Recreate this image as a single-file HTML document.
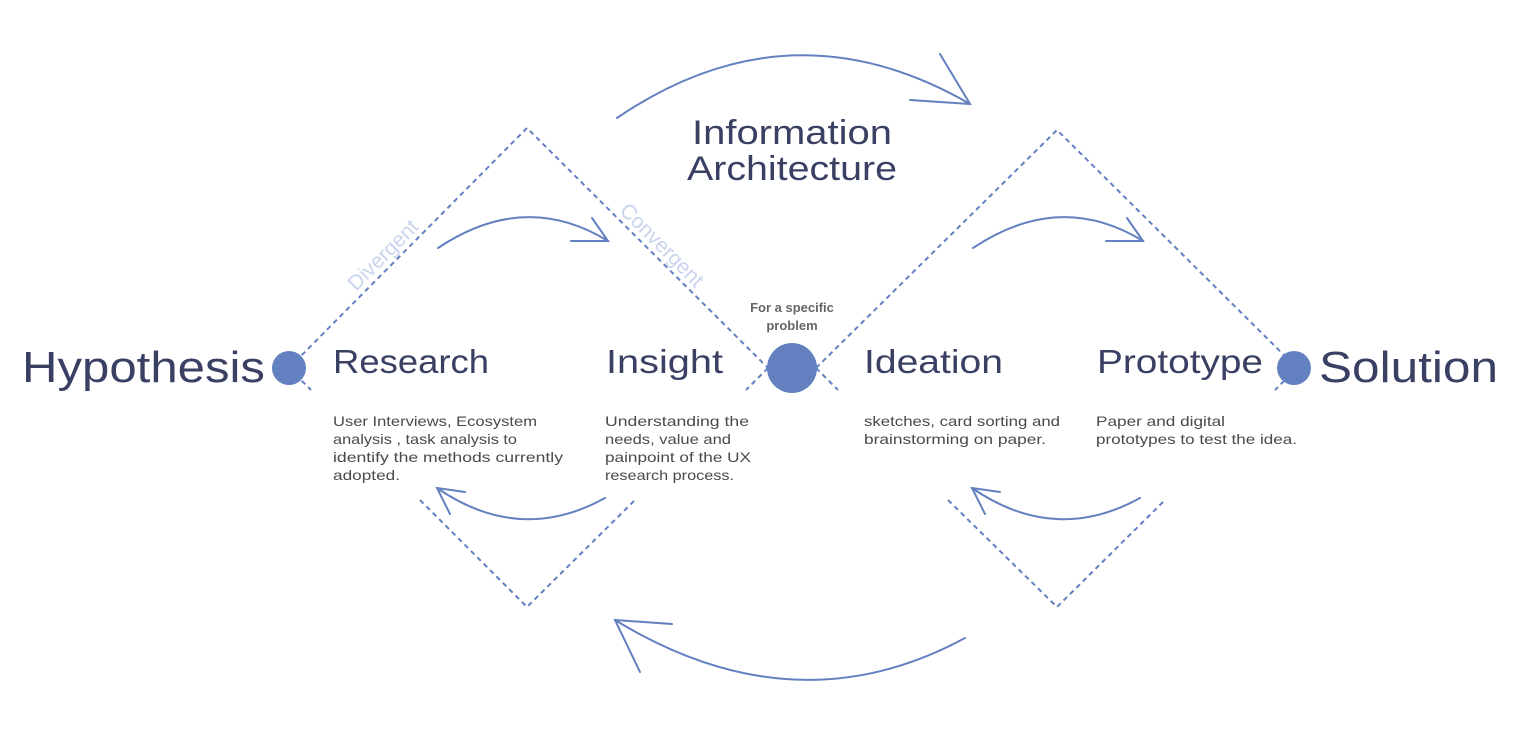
<!DOCTYPE html>
<html><head><meta charset="utf-8"><style>
html,body{margin:0;padding:0;background:#fff;}
svg{display:block;}
text{font-family:"Liberation Sans",sans-serif;}
.big{fill:#3a4063;}
.sm{fill:#4a4a4a;font-size:14px;}
</style></head><body>
<svg width="1532" height="734" viewBox="0 0 1532 734" xmlns="http://www.w3.org/2000/svg">
<g stroke="#6380c0" stroke-width="2" fill="none" stroke-dasharray="5,4">
<polyline points="289,368 527,128 768,368"/>
<line x1="289" y1="368" x2="311" y2="390"/>
<line x1="768" y1="368" x2="746" y2="390"/>
<polyline points="420,500 527,607 635,500"/>
<polyline points="816,368 1057,130 1297,368"/>
<line x1="816" y1="368" x2="838" y2="390"/>
<line x1="1297" y1="368" x2="1275" y2="390"/>
<polyline points="948,500 1057,607 1165,500"/>
</g>
<g stroke="#6380c0" stroke-width="2" fill="none" stroke-linecap="round">
<path d="M617,118 Q790,0 970,104"/>
<path d="M940,54 L970,104 L910,100"/>
<path d="M438,248 Q525,190 608,241"/>
<path d="M571,241 L608,241 L592,218"/>
<path d="M973,248 Q1060,190 1143,241"/>
<path d="M1106,241 L1143,241 L1127,218"/>
<path d="M605,498 Q520,545 437,488"/>
<path d="M465,492 L437,488 L450,514"/>
<path d="M1140,498 Q1055,545 972,488"/>
<path d="M1000,492 L972,488 L985,514"/>
<path d="M965,638 Q795,730 615,620"/>
<path d="M672,624 L615,620 L640,672"/>
</g>
<circle cx="289" cy="368" r="17" fill="#6380c0"/>
<circle cx="792" cy="368" r="25" fill="#6380c0"/>
<circle cx="1294" cy="368" r="17" fill="#6380c0"/>

<text class="big" x="22" y="382" font-size="44" textLength="243" lengthAdjust="spacingAndGlyphs">Hypothesis</text>
<text class="big" x="1319" y="382" font-size="44" textLength="179" lengthAdjust="spacingAndGlyphs">Solution</text>
<text class="big" x="333" y="373" font-size="33" textLength="156" lengthAdjust="spacingAndGlyphs">Research</text>
<text class="big" x="606" y="373" font-size="33" textLength="117" lengthAdjust="spacingAndGlyphs">Insight</text>
<text class="big" x="864" y="373" font-size="33" textLength="139" lengthAdjust="spacingAndGlyphs">Ideation</text>
<text class="big" x="1097" y="373" font-size="33" textLength="166" lengthAdjust="spacingAndGlyphs">Prototype</text>
<text class="big" x="692" y="144" font-size="34" textLength="200" lengthAdjust="spacingAndGlyphs">Information</text>
<text class="big" x="687" y="180" font-size="34" textLength="210" lengthAdjust="spacingAndGlyphs">Architecture</text>

<text x="792" y="312" font-size="13" fill="#666" font-weight="bold" text-anchor="middle">For a specific</text>
<text x="792" y="330" font-size="13" fill="#666" font-weight="bold" text-anchor="middle">problem</text>

<text x="383" y="262" font-size="21" fill="#c9d4ee" text-anchor="middle" transform="rotate(-45 383 255)">Divergent</text>
<text x="662" y="252" font-size="21" fill="#c9d4ee" text-anchor="middle" transform="rotate(45 662 245)">Convergent</text>

<text class="sm" x="333" y="426" textLength="204" lengthAdjust="spacingAndGlyphs">User Interviews, Ecosystem</text>
<text class="sm" x="333" y="444" textLength="184" lengthAdjust="spacingAndGlyphs">analysis , task analysis to</text>
<text class="sm" x="333" y="462" textLength="230" lengthAdjust="spacingAndGlyphs">identify the methods currently</text>
<text class="sm" x="333" y="480" textLength="67" lengthAdjust="spacingAndGlyphs">adopted.</text>

<text class="sm" x="605" y="426" textLength="144" lengthAdjust="spacingAndGlyphs">Understanding the</text>
<text class="sm" x="605" y="444" textLength="126" lengthAdjust="spacingAndGlyphs">needs, value and</text>
<text class="sm" x="605" y="462" textLength="146" lengthAdjust="spacingAndGlyphs">painpoint of the UX</text>
<text class="sm" x="605" y="480" textLength="129" lengthAdjust="spacingAndGlyphs">research process.</text>

<text class="sm" x="864" y="426" textLength="196" lengthAdjust="spacingAndGlyphs">sketches, card sorting and</text>
<text class="sm" x="864" y="444" textLength="182" lengthAdjust="spacingAndGlyphs">brainstorming on paper.</text>

<text class="sm" x="1096" y="426" textLength="129" lengthAdjust="spacingAndGlyphs">Paper and digital</text>
<text class="sm" x="1096" y="444" textLength="201" lengthAdjust="spacingAndGlyphs">prototypes to test the idea.</text>
</svg>
</body></html>
